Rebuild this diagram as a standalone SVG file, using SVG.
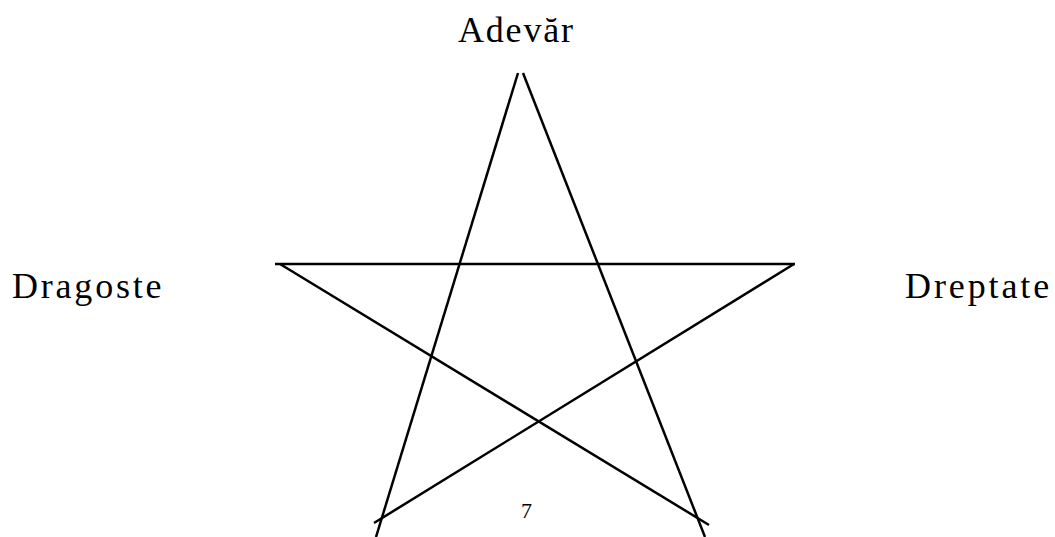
<svg xmlns="http://www.w3.org/2000/svg" width="1055" height="537" viewBox="0 0 1055 537">
<style>
.t{font-family:"Liberation Serif","Times New Roman",serif;fill:#000}
.l{stroke:#000;stroke-width:2.5;fill:none;stroke-linecap:butt}
</style>
<rect width="1055" height="537" fill="#fff"/>
<g id="connectors">
<line class="l" x1="518" y1="73" x2="376" y2="537"/>
<line class="l" x1="523" y1="73" x2="705" y2="537"/>
<line class="l" x1="275" y1="264" x2="795" y2="264"/>
<line class="l" x1="280" y1="264" x2="709" y2="525"/>
<line class="l" x1="794" y1="264" x2="374" y2="523"/>
</g>
<g id="adevar"><text class="t" x="458" y="42" font-size="36" letter-spacing="1.8">Adevăr</text></g>
<g id="dragoste"><text class="t" x="12" y="298" font-size="36" letter-spacing="2.8">Dragoste</text></g>
<g id="dreptate"><text class="t" x="905" y="298" font-size="36" letter-spacing="2.9">Dreptate</text></g>
<g id="page"><text class="t" x="521" y="518" font-size="22">7</text></g>
</svg>
